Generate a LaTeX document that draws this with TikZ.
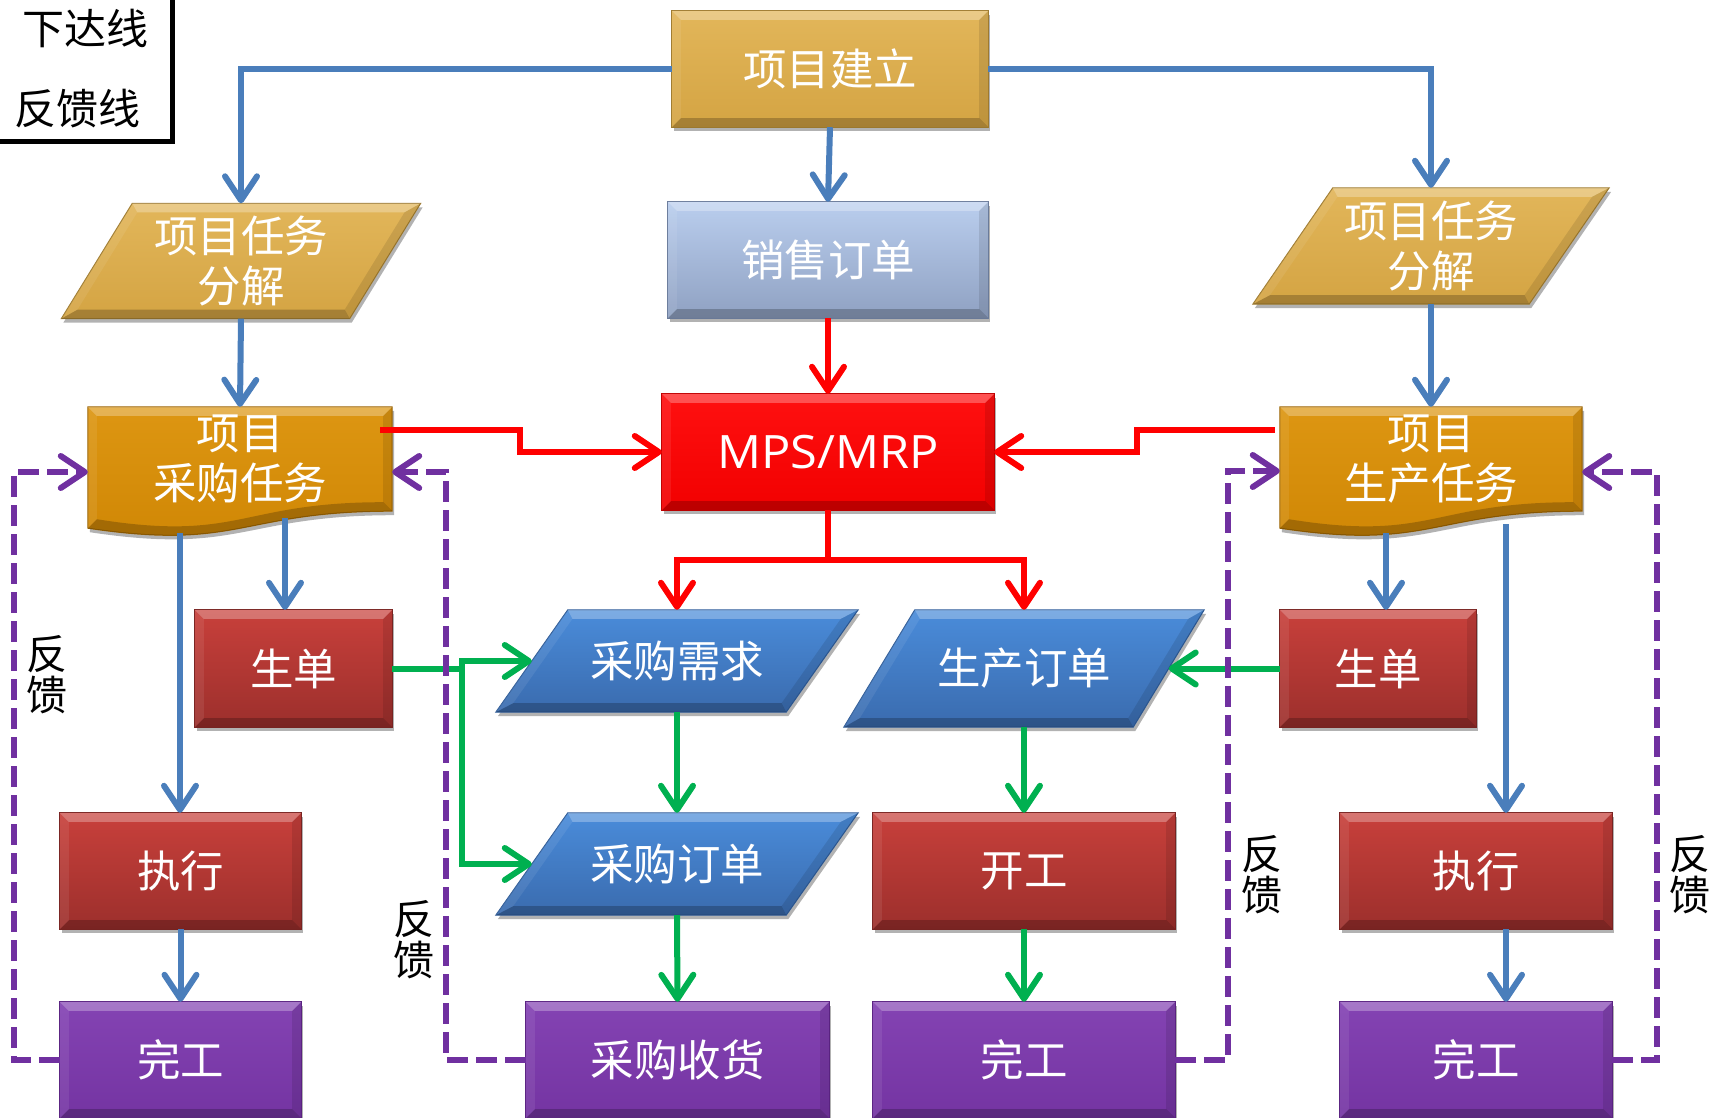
\documentclass[tikz,border=0pt]{standalone}
\usepackage{fontspec}
\setmainfont{Noto Sans CJK SC}
\newfontfamily\latinsans{Open Sans}
\usetikzlibrary{arrows.meta,calc,backgrounds,shadows}
\pgfdeclarelayer{canvasbg}
\pgfsetlayers{canvasbg,background,main}

\definecolor{cBlue}{HTML}{4A7EBB}
\definecolor{cGreen}{HTML}{00B050}
\definecolor{cRed}{HTML}{FF0000}
\definecolor{cPurple}{HTML}{7030A0}
\definecolor{goldT}{HTML}{E2B65A}
\definecolor{goldB}{HTML}{D4A443}
\definecolor{goldD}{HTML}{A07C30}
\definecolor{orgT}{HTML}{DD9612}
\definecolor{orgB}{HTML}{CF8604}
\definecolor{orgD}{HTML}{9C6505}
\definecolor{sbT}{HTML}{BACEEE}
\definecolor{sbB}{HTML}{8FA1C2}
\definecolor{sbD}{HTML}{6C7D9C}
\definecolor{mpsT}{HTML}{FF1010}
\definecolor{mpsB}{HTML}{F20000}
\definecolor{mpsD}{HTML}{C00000}
\definecolor{bluT}{HTML}{4A8CDA}
\definecolor{bluB}{HTML}{3A6BAE}
\definecolor{bluD}{HTML}{2F5C98}
\definecolor{redT}{HTML}{C8403B}
\definecolor{redB}{HTML}{9C2F2C}
\definecolor{redD}{HTML}{7A2422}
\definecolor{purT}{HTML}{8443B3}
\definecolor{purB}{HTML}{7434A2}
\definecolor{purD}{HTML}{5B2382}

\tikzset{
  box/.style={inner sep=0pt, text=white, font=\fontsize{43.5pt}{50pt}\selectfont, align=center},
  conn/.style={line width=6pt, -{Straight Barb[length=24pt,width=32pt,round]}},
  bluearrow/.style={conn, draw=cBlue},
  redarrow/.style={conn, draw=cRed},
  greenarrow/.style={conn, draw=cGreen},
  greenline/.style={line width=6pt, draw=cGreen},
  fbarrow/.style={conn, draw=cPurple, dash pattern=on 21pt off 8pt},
  lbl/.style={font=\fontsize{41pt}{41pt}\selectfont, align=center, text=black, inner sep=0pt},
  shadowed/.style={drop shadow={shadow xshift=2pt,shadow yshift=-4pt,opacity=0.3,fill=black}},
}

\newcommand\bevelbands{%
  \fill[white,opacity=0.28] (A) -- (B) -- (B1) -- (A1) -- cycle;
  \fill[black,opacity=0.10] (B) -- (C) -- (C1) -- (B1) -- cycle;
  \fill[black,opacity=0.22] (C) -- (D) -- (D1) -- (C1) -- cycle;
  \fill[white,opacity=0.08] (D) -- (A) -- (A1) -- (D1) -- cycle;
}
\newcommand\rectshape[4]{%
  \path[shadowed, top color=#2, bottom color=#3, draw=#4, line width=1pt] (#1.north west) rectangle (#1.south east);
  \coordinate (A) at (#1.north west); \coordinate (B) at (#1.north east);
  \coordinate (C) at (#1.south east); \coordinate (D) at (#1.south west);
  \coordinate (A1) at ($(A)+(9,9)$); \coordinate (B1) at ($(B)+(-9,9)$);
  \coordinate (C1) at ($(C)+(-9,-9)$); \coordinate (D1) at ($(D)+(9,-9)$);
  \bevelbands
}
% node, slant, height, top colour, bottom colour, border
\newcommand\parashape[6]{%
  \pgfmathsetmacro\rr{#2/#3}%
  \pgfmathsetmacro\kk{sqrt(1+\rr*\rr)}%
  \pgfmathsetmacro\bkA{9*(\kk-\rr)}%
  \pgfmathsetmacro\bkB{9*(\kk+\rr)}%
  \coordinate (A) at ($(#1.north west)+(#2/2,0)$);
  \coordinate (B) at ($(#1.north east)+(#2/2,0)$);
  \coordinate (C) at ($(#1.south east)+(-#2/2,0)$);
  \coordinate (D) at ($(#1.south west)+(-#2/2,0)$);
  \path[shadowed, top color=#4, bottom color=#5, draw=#6, line width=1pt] (A) -- (B) -- (C) -- (D) -- cycle;
  \coordinate (A1) at ($(A)+(\bkA,9)$); \coordinate (B1) at ($(B)+(-\bkB,9)$);
  \coordinate (C1) at ($(C)+(-\bkA,-9)$); \coordinate (D1) at ($(D)+(\bkB,-9)$);
  \bevelbands
}
\newcommand\docshape[4]{%
  \coordinate (A) at (#1.north west); \coordinate (B) at (#1.north east);
  \coordinate (C) at (#1.south east); \coordinate (D) at ($(#1.south west)+(0,17)$);
  \coordinate (S0) at (#1.south); \coordinate (S1) at ($(#1.south)+(0,40)$);
  \path[shadowed, top color=#2, bottom color=#3, draw=#4, line width=1pt]
    (A) -- (B) -- (C) .. controls (S0) and (S1) .. (D) -- cycle;
  \coordinate (A1) at ($(A)+(9,9)$); \coordinate (B1) at ($(B)+(-9,9)$);
  \coordinate (C1) at ($(C)+(-9,-9)$); \coordinate (D1) at ($(D)+(9,-9)$);
  \fill[white,opacity=0.28] (A) -- (B) -- (B1) -- (A1) -- cycle;
  \fill[black,opacity=0.10] (B) -- (C) -- (C1) -- (B1) -- cycle;
  \fill[black,opacity=0.22] (C) .. controls (S0) and (S1) .. (D) -- (D1) .. controls ($(S1)+(0,-9)$) and ($(S0)+(0,-9)$) .. (C1) -- cycle;
  \fill[white,opacity=0.08] (D) -- (A) -- (A1) -- (D1) -- cycle;
}

\begin{document}
\begin{tikzpicture}[x=1pt,y=-1pt]
\useasboundingbox (0,0) rectangle (1714,1118);
\begin{pgfonlayer}{canvasbg}
\fill[white] (0,0) rectangle (1714,1118);
\end{pgfonlayer}

% ---------- nodes (text) ----------
\node[box, minimum width=316pt, minimum height=116pt] (jl) at (830,69) {项目建立};
\node[box, minimum width=320pt, minimum height=116pt] (xs) at (828,260) {销售订单};
\node[box, minimum width=288pt, minimum height=115pt] (fjL) at (241,261) {项目任务\\分解};
\node[box, minimum width=276pt, minimum height=116pt] (fjR) at (1431,246) {项目任务\\分解};
\node[box, minimum width=304pt, minimum height=104pt] (cgL) at (240,459) {项目\\采购任务};
\node[box, minimum width=302pt, minimum height=104pt] (scR) at (1431,459) {项目\\生产任务};
\node[box, minimum width=332pt, minimum height=116pt, font=\latinsans\fontsize{46pt}{50pt}\selectfont] (mps) at (828,452) {\scalebox{1.06}[1]{MPS/MRP}};
\node[box, minimum width=197pt, minimum height=117pt] (sdL) at (293.5,668.5) {生单};
\node[box, minimum width=290pt, minimum height=102pt] (cgxq) at (677,661) {采购需求};
\node[box, minimum width=289pt, minimum height=117pt] (scdd) at (1024,668.5) {生产订单};
\node[box, minimum width=196pt, minimum height=117pt] (sdR) at (1378,668.5) {生单};
\node[box, minimum width=241pt, minimum height=116pt] (zxL) at (180.5,871) {执行};
\node[box, minimum width=290pt, minimum height=102pt] (cgdd) at (677,864) {采购订单};
\node[box, minimum width=302pt, minimum height=116pt] (kg) at (1024,871) {开工};
\node[box, minimum width=272pt, minimum height=116pt] (zxR) at (1476,871) {执行};
\node[box, minimum width=241pt, minimum height=116pt] (wgL) at (180.5,1060) {完工};
\node[box, minimum width=303pt, minimum height=116pt] (cgsh) at (677.5,1060) {采购收货};
\node[box, minimum width=302pt, minimum height=116pt] (wgM) at (1024,1060) {完工};
\node[box, minimum width=272pt, minimum height=116pt] (wgR) at (1476,1060) {完工};

% ---------- shapes behind the text ----------
\begin{pgfonlayer}{background}
  \rectshape{jl}{goldT}{goldB}{goldD}
  \rectshape{xs}{sbT}{sbB}{sbD}
  \parashape{fjL}{71}{115}{goldT}{goldB}{goldD}
  \parashape{fjR}{80}{116}{goldT}{goldB}{goldD}
  \docshape{cgL}{orgT}{orgB}{orgD}
  \docshape{scR}{orgT}{orgB}{orgD}
  \rectshape{mps}{mpsT}{mpsB}{mpsD}
  \rectshape{sdL}{redT}{redB}{redD}
  \parashape{cgxq}{72}{102}{bluT}{bluB}{bluD}
  \parashape{scdd}{71}{117}{bluT}{bluB}{bluD}
  \rectshape{sdR}{redT}{redB}{redD}
  \rectshape{zxL}{redT}{redB}{redD}
  \parashape{cgdd}{72}{102}{bluT}{bluB}{bluD}
  \rectshape{kg}{redT}{redB}{redD}
  \rectshape{zxR}{redT}{redB}{redD}
  \rectshape{wgL}{purT}{purB}{purD}
  \rectshape{cgsh}{purT}{purB}{purD}
  \rectshape{wgM}{purT}{purB}{purD}
  \rectshape{wgR}{purT}{purB}{purD}
\end{pgfonlayer}

% ---------- legend ----------
\node[lbl, font=\fontsize{42pt}{44pt}\selectfont] (lg1) at (86,28) {下达线};
\node[lbl, font=\fontsize{42pt}{44pt}\selectfont] (lg2) at (77,109) {反馈线};
\draw[line width=5pt] (-10,142) -- (172,142) -- (172,-10);

% ---------- blue connectors ----------
\coordinate (cL1) at (180,533);
\coordinate (cL2) at (285,518);
\coordinate (cR1) at (1506,524);
\coordinate (cR2) at (1386,533);
\draw[bluearrow] (jl.west) -| (fjL.north);
\draw[bluearrow] (jl.east) -| (fjR.north);
\draw[bluearrow] (jl.south) -- (xs.north);
\draw[bluearrow] (fjL.south) -- (cgL.north);
\draw[bluearrow] (fjR.south) -- (scR.north);
\draw[bluearrow] (cL2) -- (cL2 |- sdL.north);
\draw[bluearrow] (cL1) -- (cL1 |- zxL.north);
\draw[bluearrow] (zxL.south) -- (wgL.north);
\draw[bluearrow] (cR2) -- (cR2 |- sdR.north);
\draw[bluearrow] (cR1) -- (cR1 |- zxR.north);
\draw[bluearrow] (cR1 |- zxR.south) -- (cR1 |- wgR.north);

% ---------- red connectors ----------
\coordinate (rL) at (380,430);
\coordinate (rR) at (1275,430);
\coordinate (split) at ($(mps.south)+(0,50)$);
\draw[redarrow] (xs.south) -- (mps.north);
\draw[redarrow] (rL) -- (520,430) |- (mps.west);
\draw[redarrow] (rR) -- (1137,430) |- (mps.east);
\draw[redarrow] (mps.south) -- (split) -| (cgxq.north);
\draw[redarrow] (split) -| (scdd.north);

% ---------- green connectors ----------
\coordinate (gj) at ($(sdL.east)+(70,0)$);
\draw[greenline] (sdL.east) -- (gj);
\draw[greenarrow] (gj) |- (cgxq.west);
\draw[greenarrow] (gj) |- (cgdd.west);
\draw[greenarrow] (cgxq.south) -- (cgdd.north);
\draw[greenarrow] (cgdd.south) -- (cgsh.north);
\draw[greenarrow] (sdR.west) -- (scdd.east);
\draw[greenarrow] (scdd.south) -- (kg.north);
\draw[greenarrow] (kg.south) -- (wgM.north);

% ---------- feedback (dashed purple) ----------
\coordinate (pL) at (14,472);
\coordinate (pM) at (446,472);
\coordinate (pN) at (1228,471);
\coordinate (pR) at (1657,472);
\draw[fbarrow] (wgL.west) -| (pL) -- (pL -| cgL.west);
\draw[fbarrow] (cgsh.west) -| (pM) -- (pM -| cgL.east);
\draw[fbarrow] (wgM.east) -| (pN) -- (pN -| scR.west);
\draw[fbarrow] (wgR.east) -| (pR) -- (pR -| scR.east);

\node[lbl] (fk1) at (47,675) {反\\馈};
\node[lbl] (fk2) at (414,940) {反\\馈};
\node[lbl] (fk3) at (1262,875) {反\\馈};
\node[lbl] (fk4) at (1690,875) {反\\馈};
\end{tikzpicture}
\end{document}
